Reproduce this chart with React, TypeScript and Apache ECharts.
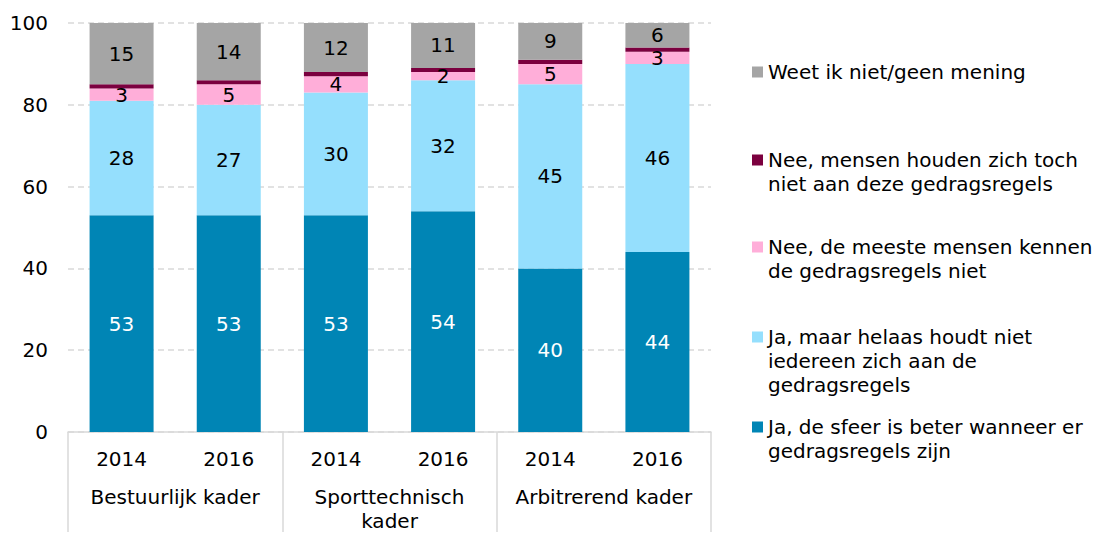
import React, { useEffect, useRef } from "react";
import * as echarts from "echarts";

const years = ["2014", "2016", "2014", "2016", "2014", "2016"];
const groups = ["Bestuurlijk kader", "Sporttechnisch\nkader", "Arbitrerend kader"];
const yTicks = { min: 0, max: 100, interval: 20 };

const seriesNames = [
  "Ja, de sfeer is beter wanneer er gedragsregels zijn",
  "Ja, maar helaas houdt niet iedereen zich aan de gedragsregels",
  "Nee, de meeste mensen kennen de gedragsregels niet",
  "Nee, mensen houden zich toch niet aan deze gedragsregels",
  "Weet ik niet/geen mening",
];
const legendLabels = [
  "Ja, de sfeer is beter wanneer er\ngedragsregels zijn",
  "Ja, maar helaas houdt niet\niedereen zich aan de\ngedragsregels",
  "Nee, de meeste mensen kennen\nde gedragsregels niet",
  "Nee, mensen houden zich toch\nniet aan deze gedragsregels",
  "Weet ik niet/geen mening",
];
const colors = ["#0085B5", "#95DFFD", "#FFAED9", "#7B003F", "#A5A5A5"];

const jaSfeer = [53, 53, 53, 54, 40, 44];
const jaMaar = [28, 27, 30, 32, 45, 46];
const neeKennen = [3, 5, 4, 2, 5, 3];
const neeHouden = [1, 1, 1, 1, 1, 1];
const weetNiet = [15, 14, 12, 11, 9, 6];
const seriesValues = [jaSfeer, jaMaar, neeKennen, neeHouden, weetNiet];

const labelColors = ["#ffffff", "#000000", "#000000", "#000000", "#000000"];
const showLabel = [true, true, true, false, true];

const legendIconCenters = [427, 337, 247, 160, 72];

const FONT = "DejaVu Sans";
const FS = 20;
const LH = 24;

export default function App() {
  const ref = useRef<HTMLDivElement>(null);
  useEffect(() => {
    document.body.style.margin = "0";
    const chart = echarts.init(ref.current!, null, { renderer: "svg" });
    const legends = seriesNames.map((name, i) => {
      const lines = legendLabels[i].split("\n").length;
      const center = legendIconCenters[i];
      const padded = " \n".repeat(lines - 1) + legendLabels[i];
      return {
        show: true,
        data: [name],
        orient: "vertical",
        left: 752,
        top: center - LH / 2 - (lines - 1) * LH,
        padding: 0,
        icon: "rect",
        itemWidth: 11,
        itemHeight: 11,
        itemGap: 0,
        selectedMode: false,
        formatter: () => padded,
        textStyle: {
          fontFamily: FONT,
          fontSize: FS,
          color: "#000",
          lineHeight: LH,
        },
      };
    });
    chart.setOption({
      animation: false,
      textStyle: { fontFamily: FONT },
      grid: { left: 68, right: 390, top: 23, bottom: 100, containLabel: false },
      legend: legends,
      xAxis: [
        {
          type: "category",
          data: years,
          position: "bottom",
          axisLine: { show: true, lineStyle: { color: "#d9d9d9", width: 1.5 } },
          axisTick: { show: false },
          axisLabel: { fontFamily: FONT, fontSize: FS, color: "#000", margin: 17, interval: 0 },
        },
        {
          type: "category",
          data: groups,
          position: "bottom",
          boundaryGap: true,
          axisLine: { show: false },
          axisTick: { show: true, length: 100, interval: 0, lineStyle: { color: "#d9d9d9", width: 1.5 } },
          axisLabel: { fontFamily: FONT, fontSize: FS, color: "#000", margin: 53, interval: 0, lineHeight: LH },
        },
      ],
      yAxis: {
        type: "value",
        min: yTicks.min,
        max: yTicks.max,
        interval: yTicks.interval,
        axisLine: { show: false },
        axisTick: { show: false },
        axisLabel: { fontFamily: FONT, fontSize: FS, color: "#000", margin: 20 },
        splitLine: { show: true, lineStyle: { color: "#d9d9d9", type: [6, 4], width: 1.5 } },
      },
      series: seriesNames.map((name, i) => ({
        name,
        type: "bar",
        stack: "total",
        xAxisIndex: 0,
        barWidth: 64,
        data: seriesValues[i],
        itemStyle: { color: colors[i] },
        label: {
          show: showLabel[i],
          position: "inside",
          color: labelColors[i],
          fontFamily: FONT,
          fontSize: FS,
          textBorderWidth: 0,
        },
      })),
    });
    return () => chart.dispose();
  }, []);
  return <div ref={ref} style={{ width: 1101, height: 533 }} />;
}
